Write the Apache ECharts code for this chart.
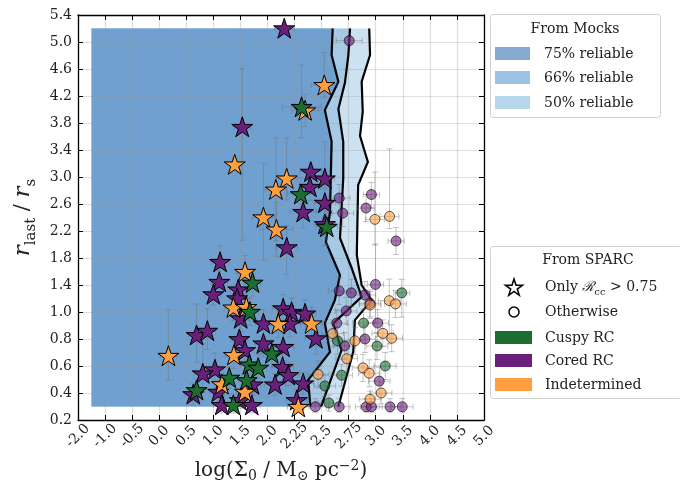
<!DOCTYPE html>
<html><head><meta charset="utf-8">
<script src="https://cdn.jsdelivr.net/npm/echarts@6/dist/echarts.min.js"></script>
<style>html,body{margin:0;padding:0;background:#fff}#c{width:680px;height:486px}</style>
</head><body><div id="c"></div>
<script>
// Tick labels (axes are evenly spaced tick slots, positions 0..15)
const xTickLabels = ['-2.0','-1.0','-0.5','0.0','0.5','1.0','1.5','2.0','2.25','2.5','2.75','3.0','3.5','4.0','4.5','5.0'];
const yTickLabels = ['0.2','0.4','0.6','0.8','1.0','1.4','1.8','2.2','2.6','3.0','3.4','3.8','4.2','4.6','5.0','5.4'];

// Mock reliability regions (positions on the tick scale)
const mockLeft = 0.5, mockBottom = 0.5, mockTop = 14.5;
const curve75 = [[9.41,14.5],[9.37,13.52],[9.62,12.53],[9.12,11.48],[9.37,10.31],[9.31,7.70],[9.16,6.59],[9.68,5.37],[9.49,4.44],[9.12,3.59],[9.31,2.52],[8.50,1.48],[8.59,0.5]];
const curve66 = [[10.05,14.5],[9.99,13.52],[9.86,12.48],[9.62,11.52],[9.80,10.30],[9.80,8.96],[9.68,6.74],[10.11,5.63],[10.48,4.56],[9.43,3.58],[9.74,2.59],[8.98,0.5]];
const curve50 = [[10.76,14.5],[10.79,13.52],[10.48,12.53],[10.52,11.42],[10.42,10.52],[10.71,9.56],[10.35,8.70],[10.30,6.11],[10.48,5.0],[10.85,4.44],[10.23,3.70],[10.17,2.53],[9.62,0.5]];

// SPARC points: [x, y, xErr, yErrDown, yErrUp]
const starCored = [[7.62,14.51,0.37,0,0],[6.07,10.86,0.3,4.2,2.15],[8.60,9.20,0.4,0.3,0.3],[9.12,8.95,0.35,0.35,1.35],[8.57,8.64,0.4,0.5,0.5],[9.12,8.05,0.4,0.6,0.5],[8.32,7.71,0.5,0.6,0.5],[9.12,7.26,0.4,0.8,0.6],[7.71,6.40,0.4,1.0,0.8],[5.25,5.86,0.3,0.6,0.6],[5.22,5.12,0.3,0.5,0.5],[5.00,4.66,0.3,0.4,0.4],[5.92,4.84,0.3,0.6,0.6],[5.88,4.51,0.3,0.5,0.5],[6.01,3.77,0.3,0.5,0.5],[4.38,3.15,0.3,1.0,1.15],[4.78,3.31,0.3,0.7,0.8],[5.96,3.00,0.3,0.5,0.6],[6.17,2.59,0.3,0.5,0.5],[5.06,1.88,0.3,0.5,0.6],[4.61,1.73,0.3,0.6,1.1],[5.18,1.05,0.3,0.4,0.4],[4.26,0.96,0.3,0.4,0.4],[5.31,0.56,0.3,0.3,0.4],[7.58,4.14,0.4,0.5,0.5],[7.89,4.01,0.4,0.5,0.5],[8.39,3.95,0.4,0.6,0.5],[6.85,3.58,0.3,0.5,0.5],[7.83,3.58,0.4,0.5,0.5],[8.79,3.03,0.4,0.6,0.6],[6.85,2.84,0.3,0.5,0.5],[7.58,2.71,0.4,0.5,0.5],[7.56,1.97,0.4,0.5,0.5],[7.77,1.67,0.4,0.4,0.5],[7.28,1.32,0.4,0.4,0.4],[8.32,1.36,0.4,0.4,0.4],[6.45,1.32,0.3,0.4,0.4],[5.98,0.74,0.3,0.3,0.4],[6.42,0.56,0.3,0.3,0.4],[8.08,0.74,0.4,0.3,0.4]];
const starCuspy = [[8.26,11.60,0.72,1.15,1.55],[8.23,8.37,0.5,0.6,0.6],[9.19,7.16,0.4,0.7,0.8],[6.45,5.09,0.3,0.5,0.5],[6.35,4.01,0.3,0.5,0.5],[7.16,2.47,0.4,0.5,0.5],[6.33,2.06,0.3,0.4,0.5],[6.66,1.94,0.3,0.4,0.5],[5.59,1.57,0.3,0.4,0.4],[6.23,1.48,0.3,0.4,0.4],[4.38,1.11,0.3,0.4,0.4],[5.74,0.56,0.3,0.3,0.4]];
const starIndet = [[9.10,12.41,0.48,0.45,1.2],[8.39,11.47,0.5,0.6,0.6],[5.79,9.47,0.25,0.2,0.2],[7.71,8.95,0.4,0.8,1.5],[7.31,8.54,0.4,1.9,1.9],[6.85,7.51,0.4,1.6,2.0],[7.33,7.06,0.6,1.0,1.0],[6.17,5.49,0.3,0.6,0.6],[5.74,4.17,0.3,0.5,0.5],[6.22,4.19,0.3,0.5,0.5],[7.40,3.56,0.3,0.5,0.5],[8.63,3.58,0.4,0.6,0.6],[3.34,2.38,0.3,0.9,1.7],[5.76,2.41,0.3,0.5,0.5],[5.32,1.33,0.3,0.4,0.4],[6.17,1.05,0.3,0.4,0.4],[8.14,0.49,0.4,0.2,0.3]];
const circCored = [[10.02,14.05,0.48,0.1,0.1],[9.65,8.22,0.4,0.5,0.5],[9.78,7.66,0.4,0.5,0.5],[10.84,8.35,0.3,0.5,0.45],[10.64,7.85,0.3,0.5,0.5],[11.75,6.63,0.3,0.5,0.5],[10.99,5.02,0.3,1.4,1.5],[9.65,4.78,0.4,0.5,0.5],[10.10,4.71,0.4,0.5,0.5],[10.60,4.63,0.4,0.5,0.5],[10.79,4.32,0.4,0.5,0.5],[9.91,4.04,0.4,0.5,0.5],[9.56,3.59,0.4,0.5,0.5],[11.07,3.59,0.4,0.5,0.5],[10.60,3.00,0.4,0.5,0.5],[9.85,2.74,0.4,0.5,0.5],[11.13,1.44,0.4,0.5,0.5],[8.77,0.49,0.4,0.2,0.3],[9.65,0.49,0.4,0.2,0.3],[10.65,0.49,0.4,0.2,0.3],[10.84,0.49,0.4,0.2,0.3],[11.53,0.49,0.4,0.2,0.3],[11.98,0.49,0.4,0.2,0.3]];
const circCuspy = [[11.96,4.71,0.3,0.9,0.5],[10.55,3.59,0.4,0.5,0.5],[9.59,2.93,0.4,0.5,0.5],[11.05,2.74,0.4,0.5,0.5],[11.35,2.00,0.4,0.5,0.5],[9.74,1.66,0.4,0.4,0.4],[9.12,1.26,0.4,0.4,0.4],[9.27,0.63,0.4,0.3,0.3]];
const circIndet = [[10.97,7.43,0.35,0.95,1.75],[11.51,7.54,0.35,0.45,2.5],[11.50,4.42,0.4,1.6,0.8],[11.73,4.30,0.4,0.5,0.5],[10.79,4.26,0.4,0.5,0.5],[9.41,3.20,0.4,0.5,0.5],[10.23,2.93,0.4,0.5,0.5],[11.26,3.21,0.4,0.5,0.5],[11.59,3.03,0.4,0.5,0.5],[9.93,2.27,0.4,0.5,0.5],[10.53,1.93,0.4,0.5,0.5],[10.76,1.73,0.4,0.5,0.5],[8.87,1.69,0.4,0.5,0.5],[11.20,1.00,0.4,0.4,0.4],[10.79,0.77,0.4,0.3,0.3]];

const C_CUSPY = '#1b6e30', C_CORED = '#6a1f7a', C_INDET = '#ff9f40';
const FONT = 'DejaVu Serif';

function starPts(cx, cy, R) {
  const pts = [];
  for (let k = 0; k < 10; k++) {
    const a = -Math.PI / 2 + k * Math.PI / 5;
    const r = k % 2 === 0 ? R : R * 0.382;
    pts.push([cx + r * Math.cos(a), cy + r * Math.sin(a)]);
  }
  return pts;
}
const STAR = 'path://' + starPts(0, 0, 100).map((p, i) => (i ? 'L' : 'M') + p[0].toFixed(2) + ',' + p[1].toFixed(2)).join('') + 'Z';

function regionSeries(name, curve, color) {
  return {
    type: 'custom', name, z: -1, silent: true, data: curve, encode: {x: 0, y: 1},
    renderItem(params, api) {
      if (params.dataIndex !== 0) return null;
      const pts = [api.coord([mockLeft, mockBottom]), api.coord([mockLeft, mockTop])];
      curve.forEach(p => pts.push(api.coord(p)));
      return {type: 'polygon', shape: {points: pts}, style: {fill: color}};
    }
  };
}
function curveLine(curve) {
  return {
    type: 'custom', z: 1, silent: true, data: curve, encode: {x: 0, y: 1},
    renderItem(params, api) {
      if (params.dataIndex !== 0) return null;
      return {type: 'polyline', shape: {points: curve.map(p => api.coord(p))},
        style: {stroke: '#000', lineWidth: 2.2, fill: null}};
    }
  };
}
const allPts = [].concat(circCored, circCuspy, circIndet, starCored, starIndet, starCuspy);
const errSeries = {
  type: 'custom', z: 2, silent: true, data: allPts, encode: {x: 0, y: 1},
  renderItem(params, api) {
    const x = api.value(0), y = api.value(1), xe = api.value(2), yd = api.value(3), yu = api.value(4);
    const l = api.coord([x - xe, y]), r = api.coord([x + xe, y]);
    const b = api.coord([x, y - yd]), t = api.coord([x, y + yu]);
    const st = {stroke: 'rgba(110,110,110,0.4)', lineWidth: 1};
    const cap = 3, ch = [];
    const seg = (x1, y1, x2, y2) => ch.push({type: 'line', shape: {x1, y1, x2, y2}, style: st});
    if (xe > 0) { seg(l[0], l[1], r[0], r[1]); seg(l[0], l[1] - cap, l[0], l[1] + cap); seg(r[0], r[1] - cap, r[0], r[1] + cap); }
    if (yd + yu > 0) { seg(b[0], b[1], t[0], t[1]); seg(b[0] - cap, b[1], b[0] + cap, b[1]); seg(t[0] - cap, t[1], t[0] + cap, t[1]); }
    return {type: 'group', children: ch};
  }
};
function starSeries(name, data, color) {
  return {type: 'scatter', name, z: 4, data, encode: {x: 0, y: 1}, symbol: STAR, symbolKeepAspect: true, symbolSize: 21,
    itemStyle: {color, borderColor: '#000', borderWidth: 1, opacity: 1}};
}
function circSeries(name, data, color) {
  return {type: 'scatter', name, z: 3, data, encode: {x: 0, y: 1}, symbol: 'circle', symbolSize: 10,
    itemStyle: {color, borderColor: '#000', borderWidth: 1, opacity: 0.6}};
}

const tickStyle = {inside: true, length: 5, lineStyle: {color: '#000', width: 1}};
const axLine = {show: true, onZero: false, lineStyle: {color: '#000', width: 1.3}};
const lbl = {fontFamily: FONT, fontSize: 14, color: '#222'};

const chart = echarts.init(document.getElementById('c'), null, {renderer: 'canvas'});
chart.setOption({
  animation: false,
  backgroundColor: '#fff',
  grid: {left: 78, right: 196, top: 15, bottom: 66, containLabel: false, outerBoundsMode: 'none'},
  xAxis: [
    {type: 'value', min: 0, max: 15, interval: 1, position: 'bottom', axisLine: axLine, axisTick: tickStyle,
      splitLine: {show: true, lineStyle: {color: 'rgba(150,150,150,0.3)', width: 1.2}},
      axisLabel: Object.assign({rotate: 45, align: 'center', verticalAlign: 'middle', margin: 16, showMinLabel: true, showMaxLabel: true,
        formatter: v => xTickLabels[Math.round(v)]}, lbl),
      name: '{t|log(Σ}{sub|0}{t| / M}{sub|⊙}{t| pc}{sup|−2}{t|)}', nameLocation: 'middle', nameGap: 38,
      nameTextStyle: {fontFamily: FONT, rich: {
        t: {fontFamily: FONT, fontSize: 20, color: '#222', lineHeight: 24, verticalAlign: 'middle'},
        sub: {fontFamily: FONT, fontSize: 14, color: '#222', lineHeight: 12, verticalAlign: 'bottom'},
        sup: {fontFamily: FONT, fontSize: 14, color: '#222', lineHeight: 12, verticalAlign: 'top'}}}},
    {type: 'value', min: 0, max: 15, interval: 1, position: 'top', axisLine: axLine, axisTick: tickStyle,
      axisLabel: {show: false}, splitLine: {show: false}}
  ],
  yAxis: [
    {type: 'value', min: 0, max: 15, interval: 1, position: 'left', axisLine: axLine, axisTick: tickStyle,
      splitLine: {show: true, lineStyle: {color: 'rgba(150,150,150,0.3)', width: 1.2}},
      axisLabel: Object.assign({margin: 6, showMinLabel: true, showMaxLabel: true, formatter: v => yTickLabels[Math.round(v)]}, lbl),
      name: '{i|r}{sub|last}{t| / }{i|r}{sub|s}', nameLocation: 'middle', nameRotate: 90, nameGap: 36,
      nameTextStyle: {fontFamily: FONT, rich: {
        i: {fontFamily: FONT, fontStyle: 'italic', fontSize: 23, color: '#222', lineHeight: 32, verticalAlign: 'middle'},
        t: {fontFamily: FONT, fontSize: 21, color: '#222', lineHeight: 32, verticalAlign: 'middle'},
        sub: {fontFamily: FONT, fontSize: 15, color: '#222', lineHeight: 14, verticalAlign: 'bottom'}}}},
    {type: 'value', min: 0, max: 15, interval: 1, position: 'right', axisLine: axLine, axisTick: tickStyle,
      axisLabel: {show: false}, splitLine: {show: false}}
  ],
  series: [
    regionSeries('50% reliable', curve50, '#cde2f1'),
    regionSeries('66% reliable', curve66, '#a6c9e5'),
    regionSeries('75% reliable', curve75, '#6fa0cf'),
    curveLine(curve50), curveLine(curve66), curveLine(curve75),
    errSeries,
    circSeries('Cored RC (other)', circCored, C_CORED),
    circSeries('Cuspy RC (other)', circCuspy, C_CUSPY),
    circSeries('Indetermined (other)', circIndet, C_INDET),
    starSeries('Cored RC', starCored, C_CORED),
    starSeries('Indetermined', starIndet, C_INDET),
    starSeries('Cuspy RC', starCuspy, C_CUSPY)
  ],
  graphic: [
    {type: 'rect', shape: {x: 490.5, y: 14.5, width: 170, height: 103, r: 3}, style: {fill: 'rgba(255,255,255,0.85)', stroke: '#d0d0d0', lineWidth: 1}, z: 10},
    {type: 'text', x: 575, y: 29, style: {text: 'From Mocks', font: '14px "DejaVu Serif"', fill: '#222', align: 'center', verticalAlign: 'middle'}, z: 11},
    {type: 'rect', shape: {x: 495, y: 47, width: 35, height: 13}, style: {fill: '#85a9cf'}, z: 11},
    {type: 'rect', shape: {x: 495, y: 71, width: 35, height: 13}, style: {fill: '#9cc3e3'}, z: 11},
    {type: 'rect', shape: {x: 495, y: 96, width: 35, height: 13}, style: {fill: '#b6d6eb'}, z: 11},
    {type: 'text', x: 544, y: 54, style: {text: '75% reliable', font: '14px "DejaVu Serif"', fill: '#222', verticalAlign: 'middle'}, z: 11},
    {type: 'text', x: 544, y: 78, style: {text: '66% reliable', font: '14px "DejaVu Serif"', fill: '#222', verticalAlign: 'middle'}, z: 11},
    {type: 'text', x: 544, y: 103, style: {text: '50% reliable', font: '14px "DejaVu Serif"', fill: '#222', verticalAlign: 'middle'}, z: 11},

    {type: 'rect', shape: {x: 490.5, y: 246.5, width: 192, height: 152, r: 3}, style: {fill: 'rgba(255,255,255,0.85)', stroke: '#d0d0d0', lineWidth: 1}, z: 10},
    {type: 'text', x: 588, y: 260, style: {text: 'From SPARC', font: '14px "DejaVu Serif"', fill: '#222', align: 'center', verticalAlign: 'middle'}, z: 11},
    {type: 'polygon', shape: {points: starPts(514, 288, 9)}, style: {fill: '#fff', stroke: '#000', lineWidth: 1.5}, z: 11},
    {type: 'circle', shape: {cx: 514, cy: 312, r: 5}, style: {fill: '#fff', stroke: '#000', lineWidth: 1.5}, z: 11},
    {type: 'rect', shape: {x: 495, y: 331, width: 37, height: 13}, style: {fill: C_CUSPY}, z: 11},
    {type: 'rect', shape: {x: 495, y: 354, width: 37, height: 13}, style: {fill: C_CORED}, z: 11},
    {type: 'rect', shape: {x: 495, y: 378, width: 37, height: 13}, style: {fill: C_INDET}, z: 11},
    {type: 'text', x: 545, y: 287, style: {text: '{t|Only }{r|ℛ}{s|cc}{t| > 0.75}', verticalAlign: 'middle',
      rich: {t: {font: '14px "DejaVu Serif"', fill: '#222', lineHeight: 20, verticalAlign: 'middle'},
             r: {font: 'italic 14px "DejaVu Serif"', fill: '#222', lineHeight: 20, verticalAlign: 'middle'},
             s: {font: '10px "DejaVu Serif"', fill: '#222', lineHeight: 10, verticalAlign: 'bottom'}}}, z: 11},
    {type: 'text', x: 545, y: 312, style: {text: 'Otherwise', font: '14px "DejaVu Serif"', fill: '#222', verticalAlign: 'middle'}, z: 11},
    {type: 'text', x: 545, y: 338, style: {text: 'Cuspy RC', font: '14px "DejaVu Serif"', fill: '#222', verticalAlign: 'middle'}, z: 11},
    {type: 'text', x: 545, y: 361, style: {text: 'Cored RC', font: '14px "DejaVu Serif"', fill: '#222', verticalAlign: 'middle'}, z: 11},
    {type: 'text', x: 545, y: 385, style: {text: 'Indetermined', font: '14px "DejaVu Serif"', fill: '#222', verticalAlign: 'middle'}, z: 11}
  ]
});
</script></body></html>
